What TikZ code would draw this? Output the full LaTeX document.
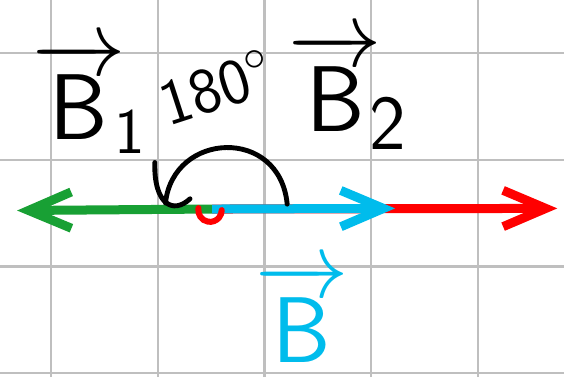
\documentclass[tikz,border=0pt]{standalone}
\usepackage{amsmath,amssymb}
\usetikzlibrary{arrows.meta}
\definecolor{penGreen}{RGB}{24,160,52}
\definecolor{penRed}{RGB}{255,0,0}
\definecolor{penCyan}{RGB}{0,188,236}

\begin{document}
\begin{tikzpicture}[
  gridline/.style={draw=black!25, line width=0.7pt},
  vecline/.style={line width=2.4pt, -{Straight Barb[length=4mm,width=3.4mm]}},
  ink/.style={line width=1.3pt, line cap=round},
  label/.style={inner sep=0pt}]
  \useasboundingbox (0,0) rectangle (5.283,3.532);
  % squared paper
  \foreach \x in {0.478,1.48,2.48,3.475,4.478}
    \draw[gridline] (\x,0) -- (\x,3.532);
  \foreach \y in {0.037,1.033,2.035,3.035}
    \draw[gridline] (0,\y) -- (5.283,\y);

  \coordinate (O) at (1.986,1.574);
  \coordinate (Bonetip) at (0.16,1.56);
  \coordinate (Btwotip) at (5.22,1.58);
  \coordinate (Bsumtip) at (3.70,1.58);

  % vectors
  \draw[vecline, penGreen] (O) -- (Bonetip);
  \draw[vecline, penRed] (O) -- (Btwotip);
  \draw[vecline, penCyan] (O) -- (Bsumtip);
  \coordinate (redc) at (1.967,1.564);
  \draw[ink, penRed, line width=1.6pt] ([shift={(170:0.11)}]redc) arc[start angle=170, end angle=360, radius=0.11];

  % angle between B1 and B2
  \coordinate (hooktop) at (1.45,2.01);
  \coordinate (hookend) at (1.78,1.67);
  \coordinate (arcstart) at (1.55,1.63);
  \coordinate (arcend) at (2.69,1.62);
  \draw[ink] (hooktop) .. controls (1.44,1.62) and (1.62,1.52) .. (hookend);
  \draw[ink] (arcstart) .. controls (1.62,2.3) and (2.62,2.35) .. (arcend);

  % labels
  \node[label, font=\fontsize{26}{28}\selectfont] (Bone) at (0.84,2.62) {$\overrightarrow{\mathsf{B}}_{\!\mathsf{1}}$};
  \node[label, rotate=18, font=\fontsize{18}{20}\selectfont] (angle) at (2.03,2.72) {$\mathsf{180}^{\circ}$};
  \node[label, font=\fontsize{30}{32}\selectfont] (Btwo) at (3.26,2.68) {$\overrightarrow{\mathsf{B}}_{\!\mathsf{2}}$};
  \node[label, text=penCyan, font=\fontsize{40}{42}\selectfont] (Bsum) at (2.83,0.60) {$\overrightarrow{\mathsf{B}}$};
\end{tikzpicture}
\end{document}
